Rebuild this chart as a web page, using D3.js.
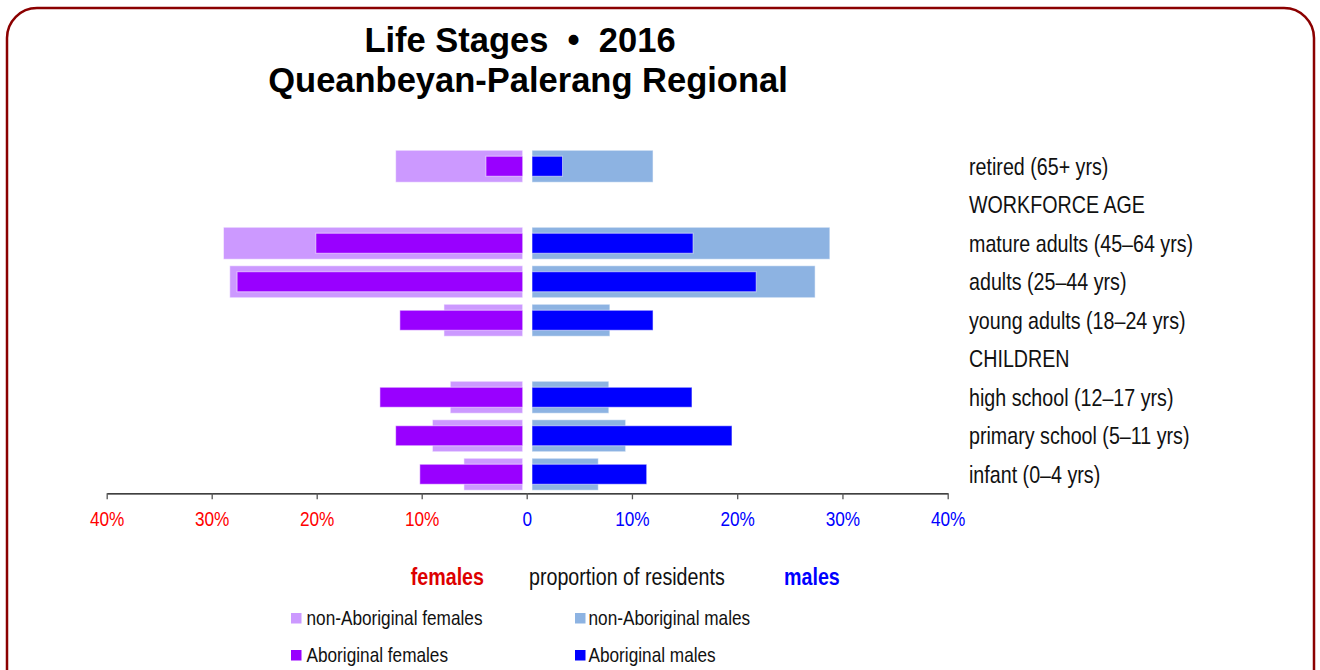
<!DOCTYPE html>
<html>
<head>
<meta charset="utf-8">
<script src="https://cdn.jsdelivr.net/npm/d3@7"></script>
<style>
  body { margin: 0; background: #fff; }
  text { font-family: "Liberation Sans", Arial, Helvetica, sans-serif; }
</style>
</head>
<body>
<svg id="chart" width="1320" height="670"></svg>
<script>
// life stage rows, top to bottom
const stages = ["retired (65+ yrs)", "WORKFORCE AGE", "mature adults (45–64 yrs)", "adults (25–44 yrs)",
  "young adults (18–24 yrs)", "CHILDREN", "high school (12–17 yrs)", "primary school (5–11 yrs)", "infant (0–4 yrs)"];

// percent of residents (heading rows have no bars)
const nonAbFemales = [12.1, null, 28.5, 27.9, 7.5, null, 6.9, 8.6, 5.6];
const abFemales    = [3.5, null, 19.7, 27.2, 11.7, null, 13.6, 12.1, 9.8];
const nonAbMales   = [11.5, null, 28.3, 26.9, 7.4, null, 7.3, 8.9, 6.3];
const abMales      = [2.9, null, 15.3, 21.3, 11.5, null, 15.2, 19.0, 10.9];

const femaleTicks = [40, 30, 20, 10];
const maleTicks = [0, 10, 20, 30, 40];

const colors = {
  nonAbF: "#cc99ff",
  abF: "#9900ff",
  nonAbM: "#8db3e2",
  abM: "#0000ff"
};

const narrow = 0.82; // the labels use a condensed face

const svg = d3.select("#chart");

// condensed text: squeeze horizontally around its anchor point
function narrowText(parent, x, y, str, size, opts = {}) {
  return parent.append("text")
    .attr("transform", `translate(${x},${y}) scale(${narrow},1)`)
    .attr("dy", opts.dy || 0)
    .attr("text-anchor", opts.anchor || "start")
    .attr("font-size", size)
    .attr("font-weight", opts.weight || "normal")
    .attr("fill", opts.fill || "#111")
    .text(str);
}

// frame
svg.append("rect")
  .attr("x", 7).attr("y", 8)
  .attr("width", 1307).attr("height", 720)
  .attr("rx", 30).attr("ry", 30)
  .attr("fill", "none")
  .attr("stroke", "#8b0000")
  .attr("stroke-width", 2.5);

// title
svg.append("text")
  .attr("x", 520).attr("y", 52)
  .attr("text-anchor", "middle")
  .attr("font-size", 34.5).attr("font-weight", "bold")
  .style("white-space", "pre")
  .text("Life Stages  •  2016");
svg.append("text")
  .attr("x", 528).attr("y", 92)
  .attr("text-anchor", "middle")
  .attr("font-size", 34.5).attr("font-weight", "bold")
  .text("Queanbeyan-Palerang Regional");

// scales
const zeroX = 526.7;
const xF = d3.scaleLinear().domain([0, 40]).range([zeroX, 106.7]);
const xM = d3.scaleLinear().domain([0, 40]).range([zeroX, 947.7]);
const y = d3.scaleBand().domain(stages).range([147, 493.5]).padding(0);

const gapF = 4, gapM = 5.3;
const wideH = 32, thinH = 20;

function femaleBars(values, color, h, cls) {
  svg.append("g").attr("class", cls)
    .selectAll("rect")
    .data(stages.map((s, i) => ({ s, v: values[i] })).filter(d => d.v != null))
    .join("rect")
    .attr("x", d => xF(d.v) - gapF)
    .attr("width", d => xF(0) - xF(d.v))
    .attr("y", d => y(d.s) + y.bandwidth() / 2 - h / 2)
    .attr("height", h)
    .attr("fill", color)
    .attr("stroke", "#fff").attr("stroke-opacity", 0.55).attr("stroke-width", 1);
}

function maleBars(values, color, h, cls) {
  svg.append("g").attr("class", cls)
    .selectAll("rect")
    .data(stages.map((s, i) => ({ s, v: values[i] })).filter(d => d.v != null))
    .join("rect")
    .attr("x", xM(0) + gapM)
    .attr("width", d => xM(d.v) - xM(0))
    .attr("y", d => y(d.s) + y.bandwidth() / 2 - h / 2)
    .attr("height", h)
    .attr("fill", color)
    .attr("stroke", "#fff").attr("stroke-opacity", 0.55).attr("stroke-width", 1);
}

femaleBars(nonAbFemales, colors.nonAbF, wideH, "nonab-f");
femaleBars(abFemales, colors.abF, thinH, "ab-f");
maleBars(nonAbMales, colors.nonAbM, wideH, "nonab-m");
maleBars(abMales, colors.abM, thinH, "ab-m");

// row labels
const rowLabels = svg.append("g");
stages.forEach(s => {
  narrowText(rowLabels, 969, y(s) + y.bandwidth() / 2, s, 24, { dy: "0.35em" });
});

// axes
const axisY = 493.3;
const fAxis = svg.append("g")
  .attr("transform", `translate(0,${axisY})`)
  .call(d3.axisBottom(xF).tickValues(femaleTicks).tickFormat(d => d + "%").tickSize(6).tickSizeOuter(0).tickPadding(12));
const mAxis = svg.append("g")
  .attr("transform", `translate(0,${axisY})`)
  .call(d3.axisBottom(xM).tickValues(maleTicks).tickFormat(d => d === 0 ? "0" : d + "%").tickSize(6).tickSizeOuter(0).tickPadding(12));

[fAxis, mAxis].forEach(a => {
  a.select(".domain").attr("stroke", "#000").attr("stroke-width", 1.3);
  a.selectAll(".tick line").attr("stroke", "#555").attr("stroke-width", 1.3);
  a.selectAll(".tick text")
    .attr("font-size", 21)
    .attr("font-family", "Liberation Sans, Arial, sans-serif")
    .attr("transform", `scale(${narrow},1)`);
});
fAxis.selectAll(".tick text").attr("fill", "#ff0000");
mAxis.selectAll(".tick text").attr("fill", "#0000ff");

// legend header
narrowText(svg, 484, 585, "females", 24, { anchor: "end", weight: "bold", fill: "#dd0000" });
narrowText(svg, 529, 585, "proportion of residents", 24);
narrowText(svg, 784, 585, "males", 24, { weight: "bold", fill: "#0000ff" });

// legend items
const legendItems = [
  { label: "non-Aboriginal females", color: colors.nonAbF, x: 291, tx: 306.5, y: 618 },
  { label: "non-Aboriginal males", color: colors.nonAbM, x: 575, tx: 588.5, y: 618 },
  { label: "Aboriginal females", color: colors.abF, x: 291, tx: 306.5, y: 655 },
  { label: "Aboriginal males", color: colors.abM, x: 575, tx: 588.5, y: 655 }
];
legendItems.forEach(d => {
  svg.append("rect")
    .attr("x", d.x).attr("y", d.y - 5)
    .attr("width", 10.5).attr("height", 10.5)
    .attr("fill", d.color);
  narrowText(svg, d.tx, d.y, d.label, 21, { dy: "0.33em" });
});
</script>
</body>
</html>
